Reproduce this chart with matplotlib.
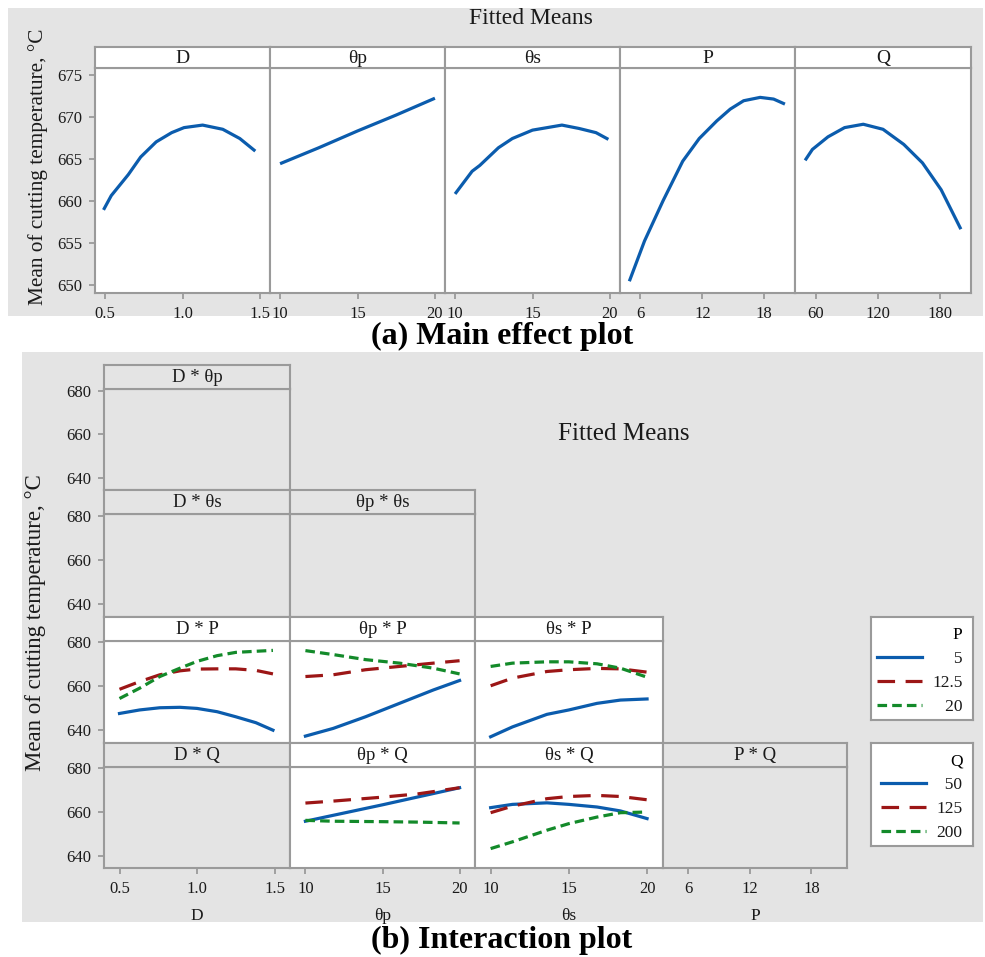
import numpy as np
import matplotlib
matplotlib.use("Agg")
import matplotlib.pyplot as plt
from matplotlib.patches import Rectangle

plt.rcParams['font.family'] = ['Liberation Serif', 'DejaVu Serif']

W, H = 985, 957
GRAY = '#e4e4e4'
EDGE = '#9a9a9a'
BLUE = '#0b5cad'
RED = '#9c1616'
GREEN = '#138a2a'
TXT = '#1a1a1a'

# ---- main effects data ----
factors = ['D', 'θp', 'θs', 'P', 'Q']
ranges = [(0.5, 1.5), (10, 20), (10, 20), (5, 20), (50, 200)]
main_ticks = [[0.5, 1.0, 1.5], [10, 15, 20], [10, 15, 20], [6, 12, 18], [60, 120, 180]]
main_ticklabels = [['0.5', '1.0', '1.5'], ['10', '15', '20'], ['10', '15', '20'],
                   ['6', '12', '18'], ['60', '120', '180']]

D_x = [0.49, 0.54, 0.65, 0.73, 0.83, 0.93, 1.01, 1.13, 1.26, 1.37, 1.47]
D_y = [658.9, 660.6, 663.1, 665.2, 667.0, 668.1, 668.7, 669.0, 668.5, 667.4, 665.9]
Tp_x = [10, 12.5, 15, 17.5, 20]
Tp_y = [664.4, 666.3, 668.3, 670.2, 672.2]
Ts_x = [10, 11.1, 11.6, 12.8, 13.7, 15, 16.9, 18.0, 19.1, 19.9]
Ts_y = [660.8, 663.5, 664.2, 666.3, 667.4, 668.4, 669.0, 668.6, 668.1, 667.3]
P_x = [4.93, 6.4, 8.2, 10.1, 11.7, 13.4, 14.7, 16.0, 17.6, 18.9, 20.0]
P_y = [650.4, 655.2, 660.0, 664.7, 667.4, 669.5, 670.9, 671.9, 672.3, 672.1, 671.5]
Q_x = [50, 57, 72, 88, 106, 125, 145, 163, 181, 200]
Q_y = [664.8, 666.1, 667.6, 668.7, 669.1, 668.5, 666.7, 664.5, 661.3, 656.6]
main_data = [(D_x, D_y), (Tp_x, Tp_y), (Ts_x, Ts_y), (P_x, P_y), (Q_x, Q_y)]
main_yticks = [650, 655, 660, 665, 670, 675]

# ---- interaction data ----
DP_x = [0.5, 0.63, 0.76, 0.89, 1.0, 1.13, 1.25, 1.38, 1.49]
DP_p5 = [647.6, 649.2, 650.2, 650.4, 649.9, 648.4, 646.1, 643.4, 640.0]
DP_p125 = [658.6, 662.1, 665.2, 667.0, 667.8, 667.9, 667.9, 667.2, 665.6]
DP_p20 = [654.4, 659.1, 664.4, 668.2, 671.3, 673.9, 675.4, 675.9, 676.3]

TpP_x = [10, 11.8, 13.9, 16.1, 18.3, 20]
TpP_p5 = [637.3, 640.8, 646.1, 652.2, 658.3, 662.6]
TpP_p125 = [664.4, 665.2, 667.5, 669.0, 670.5, 671.6]
TpP_p20 = [676.2, 674.4, 672.1, 670.5, 668.2, 665.6]

TsP_x = [10, 11.4, 13.6, 15, 16.8, 18.3, 20]
TsP_p5 = [637.0, 641.5, 647.2, 649.2, 652.2, 653.7, 654.2]
TsP_p125 = [660.2, 663.7, 666.7, 667.5, 668.1, 667.9, 666.4]
TsP_p20 = [669.0, 670.5, 671.1, 671.1, 670.2, 668.2, 664.1]

TpQ_x = [10, 11.8, 15, 17.3, 20]
TpQ_q50 = [655.8, 658.5, 663.3, 666.9, 671.1]
TpQ_q125 = [664.1, 665.0, 666.8, 668.3, 671.1]
TpQ_q200 = [656.2, 655.8, 655.6, 655.4, 655.0]

TsQ_x = [10, 11.4, 13.6, 15, 16.8, 18.3, 20]
TsQ_q50 = [662.0, 663.5, 664.2, 663.5, 662.3, 660.5, 657.0]
TsQ_q125 = [659.7, 662.7, 666.1, 667.1, 667.6, 667.1, 665.6]
TsQ_q200 = [643.3, 646.4, 651.7, 654.7, 657.7, 659.7, 660.0]

inter_data = {
    (2, 0): (DP_x, [DP_p5, DP_p125, DP_p20]),
    (2, 1): (TpP_x, [TpP_p5, TpP_p125, TpP_p20]),
    (2, 2): (TsP_x, [TsP_p5, TsP_p125, TsP_p20]),
    (3, 1): (TpQ_x, [TpQ_q50, TpQ_q125, TpQ_q200]),
    (3, 2): (TsQ_x, [TsQ_q50, TsQ_q125, TsQ_q200]),
}
inter_yticks = [640, 660, 680]

styles = [dict(color=BLUE, ls='-'),
          dict(color=RED, ls=(0, (5.5, 3.3))),
          dict(color=GREEN, ls=(0, (3, 1.6)))]

fig = plt.figure(figsize=(W / 100, H / 100), dpi=100)


def box(x0, y0, x1, y1):
    return [x0 / W, 1 - y1 / H, (x1 - x0) / W, (y1 - y0) / H]


def frame(ax, face):
    ax.set_facecolor(face)
    for s in ax.spines.values():
        s.set_color(EDGE)
        s.set_linewidth(1.5)
    ax.tick_params(color=EDGE, labelcolor=TXT, length=4, width=1.3, labelsize=12)


def strip(x0, y0, x1, y1, label, face, size):
    sa = fig.add_axes(box(x0, y0, x1, y1))
    frame(sa, face)
    sa.set_xticks([])
    sa.set_yticks([])
    sa.text(0.5, 0.46, label, ha='center', va='center', fontsize=size,
            color=TXT, transform=sa.transAxes)


def xlim_for(lo, hi, m):
    return lo - m * (hi - lo), hi + m * (hi - lo)


# backgrounds
fig.add_artist(Rectangle((8 / W, 1 - 316 / H), 975 / W, 308 / H, transform=fig.transFigure,
                         facecolor=GRAY, edgecolor='none', zorder=-5))
fig.add_artist(Rectangle((22 / W, 1 - 922 / H), 961 / W, 570 / H, transform=fig.transFigure,
                         facecolor=GRAY, edgecolor='none', zorder=-5))

# ---- (a) main effect plot ----
edges = [95, 270, 445, 620, 795, 971]
for i, f in enumerate(factors):
    x0, x1 = edges[i], edges[i + 1]
    ax = fig.add_axes(box(x0, 68, x1, 293))
    frame(ax, 'white')
    xs, ys = main_data[i]
    ax.plot(xs, ys, color=BLUE, lw=2.3, solid_capstyle='butt', solid_joinstyle='round')
    ax.set_xlim(*xlim_for(*ranges[i], 0.065))
    ax.set_ylim(649.0, 675.8)
    ax.set_xticks(main_ticks[i])
    ax.set_xticklabels(main_ticklabels[i])
    ax.tick_params(axis='x', pad=5)
    if i == 0:
        ax.set_yticks(main_yticks)
        ax.tick_params(axis='y', pad=5)
    else:
        ax.set_yticks([])
    strip(x0, 47, x1, 68, f, 'white', 14)

fig.text(531 / W, 1 - 18 / H, 'Fitted Means', ha='center', va='center', fontsize=17, color=TXT)
fig.text(38 / W, 1 - 167 / H, 'Mean of cutting temperature, °C', rotation=90,
         ha='center', va='center', fontsize=15.3, color=TXT)
fig.text(502 / W, 1 - 336 / H, '(a) Main effect plot', ha='center', va='center',
         fontsize=23, fontweight='bold')

# ---- (b) interaction plot ----
col_edges = [104, 290, 475, 662.7, 847.3]
row_tops = [365, 490, 616.7, 742.7]
row_bottoms = [490, 616.7, 742.7, 868.3]
row_factors = ['θp', 'θs', 'P', 'Q']
col_factors = ['D', 'θp', 'θs', 'P']
col_ranges = [(0.5, 1.5), (10, 20), (10, 20), (5, 20)]
col_ticks = [[0.5, 1.0, 1.5], [10, 15, 20], [10, 15, 20], [6, 12, 18]]
col_ticklabels = [['0.5', '1.0', '1.5'], ['10', '15', '20'], ['10', '15', '20'], ['6', '12', '18']]

handles = {}
for r in range(4):
    for c in range(r + 1):
        x0, x1 = col_edges[c], col_edges[c + 1]
        st = row_tops[r]
        sb = st + 23.8
        has = (r, c) in inter_data
        face = 'white' if has else GRAY
        ax = fig.add_axes(box(x0, sb, x1, row_bottoms[r]))
        frame(ax, face)
        ax.set_xlim(*xlim_for(*col_ranges[c], 0.10))
        ax.set_ylim(634.3, 680.8)
        if has:
            xs, series = inter_data[(r, c)]
            lines = []
            for ys, sty in zip(series, styles):
                ln, = ax.plot(xs, ys, lw=2.3, dash_capstyle='butt', **sty)
                lines.append(ln)
            handles[r] = lines
        if c == 0:
            ax.set_yticks(inter_yticks)
            ax.tick_params(axis='y', pad=5)
        else:
            ax.set_yticks([])
        if r == 3:
            ax.set_xticks(col_ticks[c])
            ax.set_xticklabels(col_ticklabels[c])
            ax.tick_params(axis='x', pad=5)
            ax.set_xlabel(col_factors[c], fontsize=12.5, color=TXT, labelpad=8)
        else:
            ax.set_xticks([])
        strip(x0, st, x1, sb, f'{col_factors[c]} * {row_factors[r]}', face, 13.5)

# legends
leg_boxes = {2: (871, 617, 973, 720), 3: (871, 743, 973, 846)}
leg_labels = {2: ['     5', '12.5', '   20'], 3: ['  50', '125', '200']}
for r, (x0, y0, x1, y1) in leg_boxes.items():
    lax = fig.add_axes(box(x0, y0, x1, y1))
    frame(lax, 'white')
    lax.set_xticks([])
    lax.set_yticks([])
    leg = lax.legend(handles[r], leg_labels[r], title=row_factors[r], alignment='right',
                     loc='upper right', bbox_to_anchor=(1.0, 1.0), frameon=False,
                     fontsize=12.5, title_fontsize=12.5, handlelength=2.6,
                     handletextpad=0.6, labelspacing=0.45, borderpad=0.55,
                     borderaxespad=0.05)
    for t in leg.get_texts():
        t.set_color(TXT)

fig.text(624 / W, 1 - 434 / H, 'Fitted Means', ha='center', va='center', fontsize=18, color=TXT)
fig.text(36 / W, 1 - 623 / H, 'Mean of cutting temperature, °C', rotation=90,
         ha='center', va='center', fontsize=16.5, color=TXT)
fig.text(502 / W, 1 - 940 / H, '(b) Interaction plot', ha='center', va='center',
         fontsize=23, fontweight='bold')

fig.savefig('out.png', dpi=100)
